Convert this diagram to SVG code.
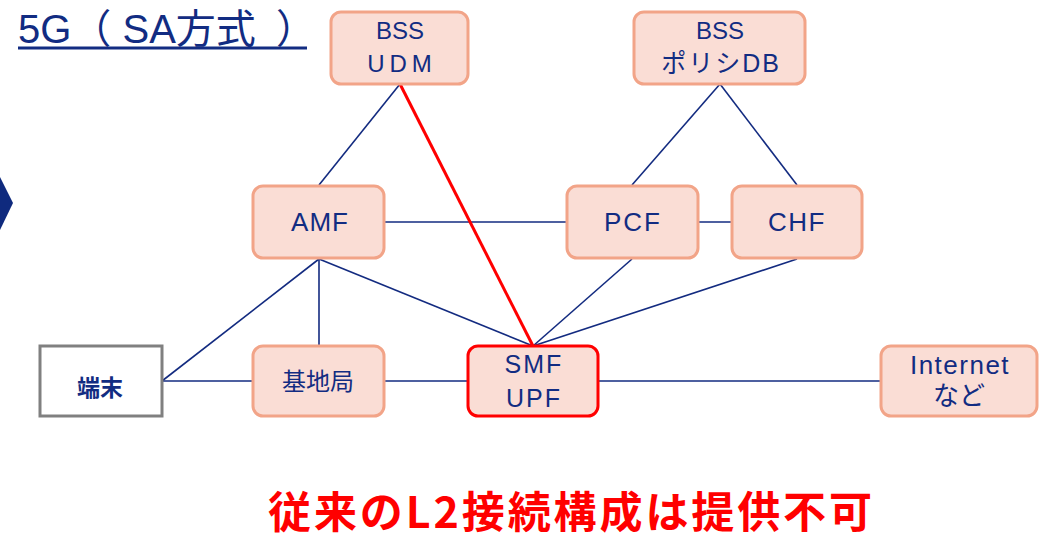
<svg xmlns="http://www.w3.org/2000/svg" width="1041" height="540" viewBox="0 0 1041 540">
<style>
.n{fill:#FADDD5;stroke:#F2A488;stroke-width:3}
.t{font-family:"Liberation Sans","Noto Sans CJK JP",sans-serif;fill:#122C82;text-anchor:middle}
.c line{stroke:#132B80;stroke-width:1.6}
</style>
<rect width="1041" height="540" fill="#fff"/>
<g id="title">
<text x="18" y="43" style="font-family:'Liberation Sans','Noto Sans CJK JP',sans-serif;font-size:40px;fill:#122C82">5G（ SA方式<tspan x="276">）</tspan></text>
<line x1="18" y1="48" x2="307" y2="48" stroke="#122C82" stroke-width="3"/>
</g>
<polygon id="chevron" points="-10,177 0,177 13,203 0,230 -10,230" fill="#0F2A7E"/>
<g class="c" id="connectors">
<line x1="400" y1="84" x2="319" y2="185"/>
<line x1="720" y1="84" x2="632" y2="185"/>
<line x1="720" y1="84" x2="797" y2="185"/>
<line x1="385" y1="222" x2="566" y2="222"/>
<line x1="698" y1="222" x2="731" y2="222"/>
<line x1="319" y1="259" x2="162" y2="381"/>
<line x1="319" y1="259" x2="319" y2="346"/>
<line x1="319" y1="259" x2="533" y2="346"/>
<line x1="632" y1="259" x2="533" y2="346"/>
<line x1="797" y1="259" x2="533" y2="346"/>
<line x1="162" y1="381" x2="252" y2="381"/>
<line x1="384" y1="381" x2="468" y2="381"/>
<line x1="598" y1="381" x2="881" y2="381"/>
<line x1="400" y1="84" x2="533" y2="346" style="stroke:#FF0000;stroke-width:3"/>
</g>
<g id="udm">
<rect class="n" x="331" y="12" width="137" height="72" rx="10"/>
<text class="t" x="400" y="39" font-size="24">BSS</text>
<text class="t" x="402" y="72" font-size="24" letter-spacing="5">UDM</text>
</g>
<g id="policydb">
<rect class="n" x="634" y="12" width="171" height="72" rx="10"/>
<text class="t" x="720" y="39" font-size="24">BSS</text>
<text class="t" x="721" y="72" font-size="25" letter-spacing="2">ポリシDB</text>
</g>
<g id="amf">
<rect class="n" x="253" y="186" width="131" height="72" rx="10"/>
<text class="t" x="320" y="231" font-size="26" letter-spacing="1">AMF</text>
</g>
<g id="pcf">
<rect class="n" x="567" y="186" width="131" height="72" rx="10"/>
<text class="t" x="633" y="231" font-size="26" letter-spacing="2">PCF</text>
</g>
<g id="chf">
<rect class="n" x="732" y="186" width="130" height="72" rx="10"/>
<text class="t" x="797" y="231" font-size="26" letter-spacing="1.5">CHF</text>
</g>
<g id="terminal">
<rect x="40" y="346" width="122" height="70" fill="#fff" stroke="#808080" stroke-width="3"/>
<text class="t" x="100" y="396" font-size="23" font-weight="bold">端末</text>
</g>
<g id="bs">
<rect class="n" x="253" y="346" width="131" height="70" rx="10"/>
<text class="t" x="318" y="390" font-size="24">基地局</text>
</g>
<g id="smf">
<rect class="n" x="468" y="346" width="130" height="70" rx="10" style="stroke:#FF0000"/>
<text class="t" x="534" y="373" font-size="25" letter-spacing="2">SMF</text>
<text class="t" x="534" y="407" font-size="25" letter-spacing="2">UPF</text>
</g>
<g id="internet">
<rect class="n" x="881" y="346" width="156" height="70" rx="10"/>
<text class="t" x="960" y="374" font-size="26" letter-spacing="1.5">Internet</text>
<text class="t" x="959" y="405" font-size="26">など</text>
</g>
<text x="268" y="528" textLength="604" lengthAdjust="spacing" style="font-family:'Noto Sans CJK JP',sans-serif;font-size:43px;font-weight:bold;fill:#FF0000">従来のL2接続構成は提供不可</text>
</svg>
